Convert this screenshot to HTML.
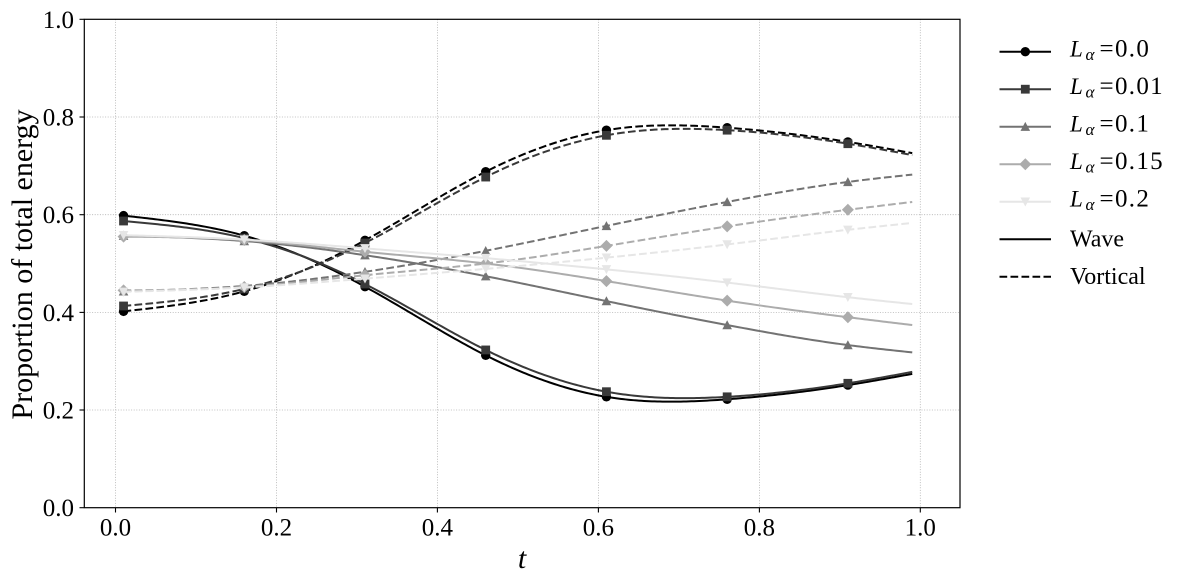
<!DOCTYPE html>
<html>
<head>
<meta charset="utf-8">
<style>
  html,body{margin:0;padding:0;background:#fff;}
  svg{display:block;}
  text{font-family:"Liberation Serif","DejaVu Serif",serif;fill:#000;}
</style>
</head>
<body>
<svg id="chart" width="1182" height="584" viewBox="0 0 1182 584" xmlns="http://www.w3.org/2000/svg">
  <rect x="0" y="0" width="1182" height="584" fill="#fff"/>
  <!-- grid -->
  <g stroke="#b0b0b0" stroke-width="0.8" stroke-dasharray="1,1.6" fill="none">
    <line x1="115.5" y1="19.3" x2="115.5" y2="507.7"/>
    <line x1="276.5" y1="19.3" x2="276.5" y2="507.7"/>
    <line x1="437.4" y1="19.3" x2="437.4" y2="507.7"/>
    <line x1="598.4" y1="19.3" x2="598.4" y2="507.7"/>
    <line x1="759.4" y1="19.3" x2="759.4" y2="507.7"/>
    <line x1="920.3" y1="19.3" x2="920.3" y2="507.7"/>
    <line x1="84.3" y1="410.0" x2="960" y2="410.0"/>
    <line x1="84.3" y1="312.4" x2="960" y2="312.4"/>
    <line x1="84.3" y1="214.7" x2="960" y2="214.7"/>
    <line x1="84.3" y1="117.0" x2="960" y2="117.0"/>
  </g>
  <g id="series"></g>
  <!-- spines -->
  <rect x="84.3" y="19.3" width="875.7" height="488.4" fill="none" stroke="#000" stroke-width="1.2"/>
  <!-- ticks -->
  <g stroke="#000" stroke-width="1.1">
    <line x1="115.5" y1="507.7" x2="115.5" y2="512.5"/>
    <line x1="276.5" y1="507.7" x2="276.5" y2="512.5"/>
    <line x1="437.4" y1="507.7" x2="437.4" y2="512.5"/>
    <line x1="598.4" y1="507.7" x2="598.4" y2="512.5"/>
    <line x1="759.4" y1="507.7" x2="759.4" y2="512.5"/>
    <line x1="920.3" y1="507.7" x2="920.3" y2="512.5"/>
    <line x1="79.5" y1="507.7" x2="84.3" y2="507.7"/>
    <line x1="79.5" y1="410.0" x2="84.3" y2="410.0"/>
    <line x1="79.5" y1="312.4" x2="84.3" y2="312.4"/>
    <line x1="79.5" y1="214.7" x2="84.3" y2="214.7"/>
    <line x1="79.5" y1="117.0" x2="84.3" y2="117.0"/>
    <line x1="79.5" y1="19.3" x2="84.3" y2="19.3"/>
  </g>
  <!-- tick labels -->
  <g font-size="25" text-anchor="middle">
    <text x="115.5" y="535.5">0.0</text>
    <text x="276.5" y="535.5">0.2</text>
    <text x="437.4" y="535.5">0.4</text>
    <text x="598.4" y="535.5">0.6</text>
    <text x="759.4" y="535.5">0.8</text>
    <text x="920.3" y="535.5">1.0</text>
  </g>
  <g font-size="25" text-anchor="end">
    <text x="74" y="516.2">0.0</text>
    <text x="74" y="418.5">0.2</text>
    <text x="74" y="320.9">0.4</text>
    <text x="74" y="223.2">0.6</text>
    <text x="74" y="125.5">0.8</text>
    <text x="74" y="27.8">1.0</text>
  </g>
  <!-- axis labels -->
  <text x="522" y="568" font-size="30" font-style="italic" text-anchor="middle">t</text>
  <text transform="translate(32,264.5) rotate(-90)" font-size="30" text-anchor="middle">Proportion of total energy</text>

  <!-- legend -->
  <g id="legend" stroke-width="2" fill="none">
    <line x1="999.5" y1="51.7" x2="1051" y2="51.7" stroke="#000"/>
    <line x1="999.5" y1="89.2" x2="1051" y2="89.2" stroke="#393939"/>
    <line x1="999.5" y1="126.7" x2="1051" y2="126.7" stroke="#737373"/>
    <line x1="999.5" y1="164.2" x2="1051" y2="164.2" stroke="#acacac"/>
    <line x1="999.5" y1="201.7" x2="1051" y2="201.7" stroke="#e6e6e6"/>
    <line x1="999.5" y1="239.2" x2="1051" y2="239.2" stroke="#000"/>
    <line x1="999.5" y1="276.7" x2="1051" y2="276.7" stroke="#000" stroke-dasharray="7.7,3.3"/>
  </g>
  <g id="legmarkers"></g>
  <g font-size="23">
    <text x="1070" y="56.3" font-style="italic">L</text>
    <text x="1085.5" y="60" font-size="17" font-style="italic">α</text>
    <text x="1099.5" y="56.3" font-size="25">=</text>
    <text x="1115" y="56.3" font-size="25" letter-spacing="1.3">0.0</text>

    <text x="1070" y="93.8" font-style="italic">L</text>
    <text x="1085.5" y="97.5" font-size="17" font-style="italic">α</text>
    <text x="1099.5" y="93.8" font-size="25">=</text>
    <text x="1115" y="93.8" font-size="25" letter-spacing="1.3">0.01</text>

    <text x="1070" y="131.3" font-style="italic">L</text>
    <text x="1085.5" y="135" font-size="17" font-style="italic">α</text>
    <text x="1099.5" y="131.3" font-size="25">=</text>
    <text x="1115" y="131.3" font-size="25" letter-spacing="1.3">0.1</text>

    <text x="1070" y="168.8" font-style="italic">L</text>
    <text x="1085.5" y="172.5" font-size="17" font-style="italic">α</text>
    <text x="1099.5" y="168.8" font-size="25">=</text>
    <text x="1115" y="168.8" font-size="25" letter-spacing="1.3">0.15</text>

    <text x="1070" y="206.3" font-style="italic">L</text>
    <text x="1085.5" y="210" font-size="17" font-style="italic">α</text>
    <text x="1099.5" y="206.3" font-size="25">=</text>
    <text x="1115" y="206.3" font-size="25" letter-spacing="1.3">0.2</text>

    <text x="1070" y="246.7" font-size="24">Wave</text>
    <text x="1070" y="284.2" font-size="24">Vortical</text>
  </g>
</svg>
<script>
(function(){
  var NS="http://www.w3.org/2000/svg";
  function X(t){return 115.5+804.8*t;}
  function Y(v){return 507.7-488.4*v;}
  var T=[0.01,0.16,0.31,0.46,0.61,0.76,0.91,0.99];
  var W=[
    [0.598,0.557,0.4525,0.312,0.227,0.222,0.251,0.274],
    [0.587,0.552,0.458,0.323,0.2375,0.227,0.2547,0.278],
    [0.557,0.546,0.517,0.474,0.423,0.374,0.333,0.318],
    [0.555,0.548,0.524,0.500,0.464,0.424,0.390,0.374],
    [0.558,0.549,0.531,0.511,0.488,0.461,0.431,0.417]
  ];
  var C=["#000000","#393939","#737373","#acacac","#e6e6e6"];
  var M=["o","s","^","D","v"];
  function spline(xs,ys){
    var n=xs.length-1,h=[],a=[],i;
    for(i=0;i<n;i++)h[i]=xs[i+1]-xs[i];
    for(i=1;i<n;i++)a[i]=3/h[i]*(ys[i+1]-ys[i])-3/h[i-1]*(ys[i]-ys[i-1]);
    var l=[1],mu=[0],z=[0];
    for(i=1;i<n;i++){l[i]=2*(xs[i+1]-xs[i-1])-h[i-1]*mu[i-1];mu[i]=h[i]/l[i];z[i]=(a[i]-h[i-1]*z[i-1])/l[i];}
    var c=[],b=[],d=[];c[n]=0;
    for(i=n-1;i>=0;i--){c[i]=z[i]-mu[i]*c[i+1];b[i]=(ys[i+1]-ys[i])/h[i]-h[i]*(c[i+1]+2*c[i])/3;d[i]=(c[i+1]-c[i])/(3*h[i]);}
    return function(x){
      var k=0;while(k<n-1&&x>xs[k+1])k++;
      var dx=x-xs[k];return ys[k]+b[k]*dx+c[k]*dx*dx+d[k]*dx*dx*dx;
    };
  }
  function marker(g,type,cx,cy,col){
    var e;
    if(type==="o"){e=document.createElementNS(NS,"circle");e.setAttribute("cx",cx);e.setAttribute("cy",cy);e.setAttribute("r",4.7);}
    else{
      e=document.createElementNS(NS,"polygon");var p;
      if(type==="s")p=[[-4.4,-4.4],[4.4,-4.4],[4.4,4.4],[-4.4,4.4]];
      else if(type==="^")p=[[0,-4.8],[4.8,4.2],[-4.8,4.2]];
      else if(type==="v")p=[[0,4.8],[4.8,-4.2],[-4.8,-4.2]];
      else p=[[0,-6],[6,0],[0,6],[-6,0]];
      e.setAttribute("points",p.map(function(q){return (cx+q[0]).toFixed(2)+","+(cy+q[1]).toFixed(2);}).join(" "));
    }
    e.setAttribute("fill",col);
    g.appendChild(e);
  }
  var g=document.getElementById("series");
  for(var s=0;s<5;s++){
    var fw=spline(T,W[s]);
    var V=W[s].map(function(v){return 1-v;});
    var fv=spline(T,V);
    [[fw,W[s],null],[fv,V,"7.7,3.3"]].forEach(function(item){
      var f=item[0],d="";
      for(var k=0;k<=300;k++){
        var t=0.01+0.98*k/300;
        d+=(k?"L":"M")+X(t).toFixed(2)+" "+Y(f(t)).toFixed(2);
      }
      var p=document.createElementNS(NS,"path");
      p.setAttribute("d",d);p.setAttribute("fill","none");
      p.setAttribute("stroke",C[s]);p.setAttribute("stroke-width","2");
      if(item[2])p.setAttribute("stroke-dasharray",item[2]);
      g.appendChild(p);
      for(var m=0;m<7;m++){marker(g,M[s],X(T[m]),Y(item[1][m]),C[s]);}
    });
  }
  var lg=document.getElementById("legmarkers");
  var ly=[51.7,89.2,126.7,164.2,201.7];
  for(var i=0;i<5;i++)marker(lg,M[i],1025.3,ly[i],C[i]);
})();
</script>
</body>
</html>
